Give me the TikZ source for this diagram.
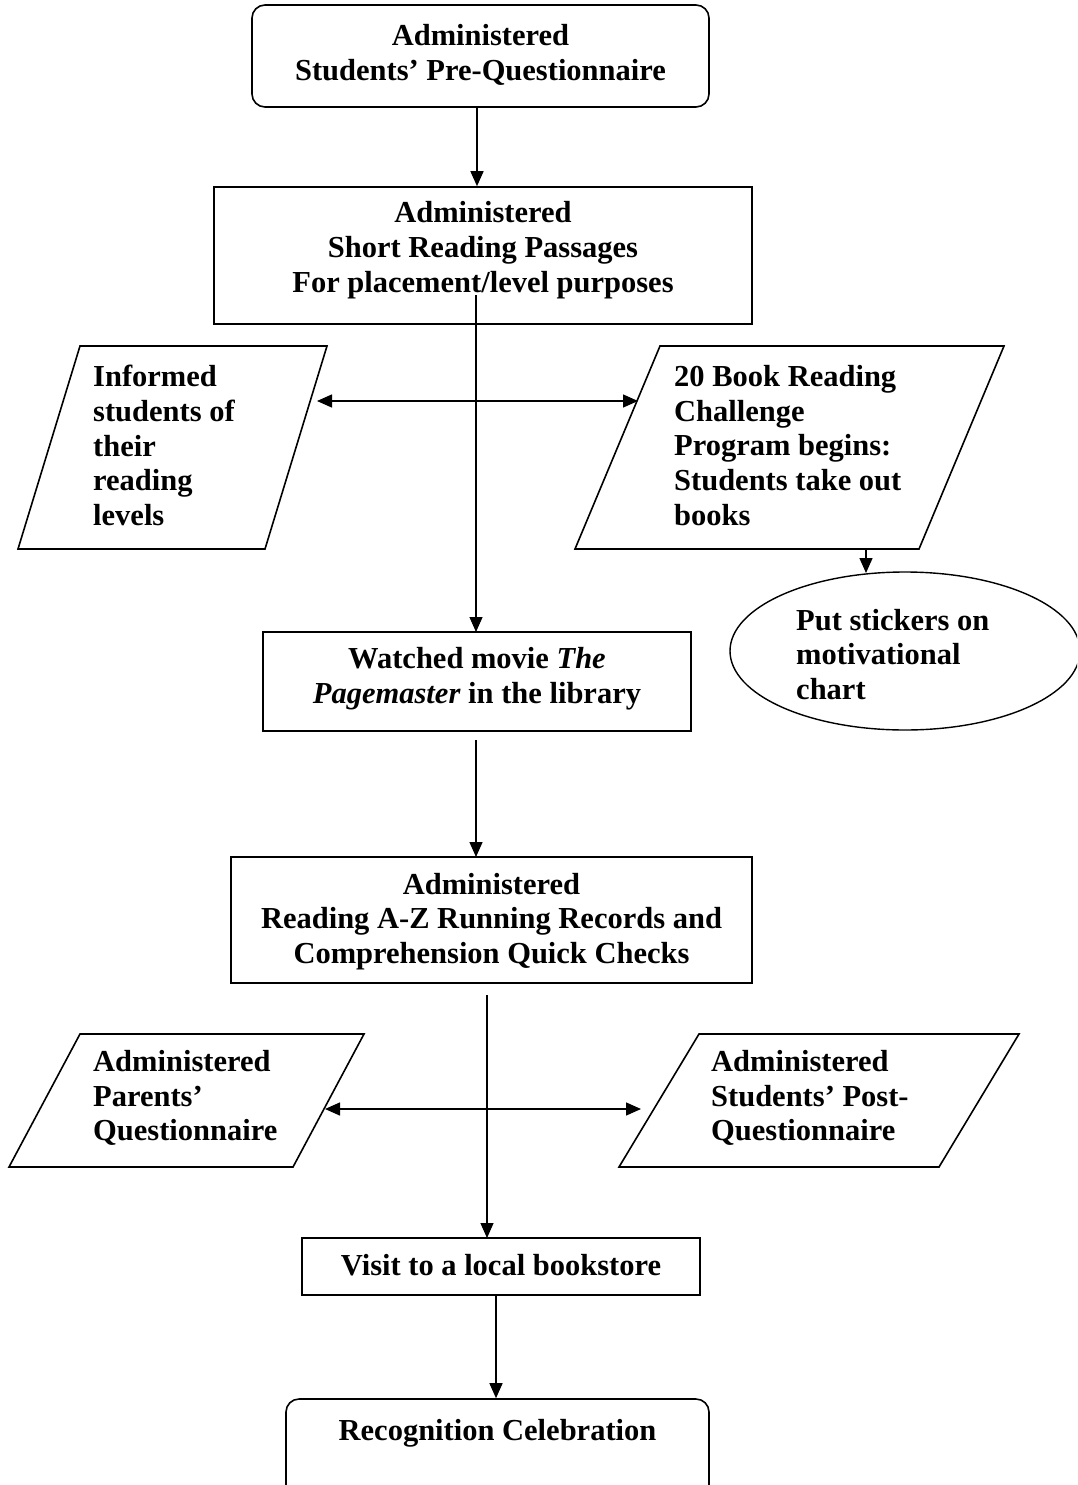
\documentclass[tikz,border=0pt]{standalone}
\usepackage{fontspec}
\setmainfont{Liberation Serif}
\usetikzlibrary{shapes.geometric,arrows.meta}
\tikzset{
  txt/.style={font=\fontsize{30.5}{34.8}\selectfont\bfseries, inner sep=0pt},
  ctxt/.style={txt, align=center},
  ltxt/.style={txt, align=left, anchor=west},
  boxshape/.style={draw, line width=1.6pt, inner sep=0pt},
  rbox/.style={boxshape, rounded corners=13pt},
  shapeline/.style={draw, line width=1.6pt, line join=miter},
  arr/.style={line width=1.4pt, -{Triangle[length=15pt,width=13pt]}},
  darr/.style={line width=1.4pt, {Triangle[length=15pt,width=13pt]}-{Triangle[length=15pt,width=13pt]}},
  thinarr/.style={line width=1.2pt, -{Triangle[length=15pt,width=13pt]}},
}
\begin{document}
\begin{tikzpicture}[x=1pt,y=-1pt]
\clip (0,0) rectangle (1077,1485);
\fill[white] (0,0) rectangle (1077,1485);

% top rounded box
\node[rbox, minimum width=457pt, minimum height=102pt] (top) at (480.5,56) {};
\node[ctxt] (toptxt) at (480.5,54.5) {Administered\\Students’ Pre-Questionnaire};

% box 2
\node[boxshape, minimum width=538pt, minimum height=137pt] (b2) at (483,255.5) {};
\node[ctxt] (b2txt) at (483,250) {Administered\\Short Reading Passages\\For placement/level purposes};

% left parallelogram
\draw[shapeline] (80,346) coordinate (p1tl) -- (327,346) -- (265,549) -- (18,549) -- cycle;
\node[ltxt] (p1txt) at (93,445.5) {Informed\\students of\\their\\reading\\levels};

% right parallelogram
\draw[shapeline] (660,346) coordinate (p2tl) -- (1004,346) -- (919,549) -- (575,549) -- cycle;
\node[ltxt] (p2txt) at (674,445.5) {20 Book Reading\\Challenge\\Program begins:\\Students take out\\books};

% ellipse
\node[draw, line width=1.4pt, ellipse, minimum width=350pt, minimum height=158pt, inner sep=0pt] (ell) at (905,651) {};
\node[ltxt] (elltxt) at (796,654.5) {Put stickers on\\motivational\\chart};

% watched box
\node[boxshape, minimum width=428pt, minimum height=99pt] (watch) at (477,681.5) {};
\node[ctxt] (watchtxt) at (477,679) {Watched movie \textit{The}\\\textit{Pagemaster} in the library};

% admin box 3
\node[boxshape, minimum width=521pt, minimum height=126pt] (b3) at (491.5,920) {};
\node[ctxt] (b3txt) at (491.5,921.5) {Administered\\Reading A-Z Running Records and\\Comprehension Quick Checks};

% lower parallelograms
\draw[shapeline] (80,1034) coordinate (p3tl) -- (364,1034) -- (293,1167) -- (9,1167) -- cycle;
\node[ltxt] (p3txt) at (93,1098) {Administered\\Parents’\\Questionnaire};
\draw[shapeline] (699,1034) coordinate (p4tl) -- (1019,1034) -- (939,1167) -- (619,1167) -- cycle;
\node[ltxt] (p4txt) at (711,1098) {Administered\\Students’ Post-\\Questionnaire};

% visit box
\node[boxshape, minimum width=398pt, minimum height=57pt] (visit) at (501,1266.5) {};
\node[ctxt] (visittxt) at (501,1265) {Visit to a local bookstore};

% final rounded box
\node[rbox, minimum width=423pt, minimum height=120pt] (final) at (497.5,1459) {};
\node[ctxt] (finaltxt) at (497.5,1433) {Recognition Celebration};

% connector coordinates
\coordinate (xa) at (477,0);
\coordinate (v1s) at (476,295);
\coordinate (v1e) at (476,632);
\coordinate (p1r) at (317,401);
\coordinate (p2l) at (638,401);
\coordinate (p2b) at (866,549);
\coordinate (ellt) at (866,573);
\coordinate (wb) at (476,740);
\coordinate (b3t) at (476,857);
\coordinate (v2s) at (487,995);
\coordinate (v2e) at (487,1238);
\coordinate (p3r) at (325,1109);
\coordinate (p4l) at (641,1109);
\coordinate (xb) at (496,0);

% connectors
\draw[arr] (top.south -| xa) -- (b2.north -| xa);
\draw[thinarr] (v1s) -- (v1e);
\draw[darr] (p1r) -- (p2l);
\draw[arr] (p2b) -- (ellt);
\draw[arr] (wb) -- (b3t);
\draw[thinarr] (v2s) -- (v2e);
\draw[darr] (p3r) -- (p4l);
\draw[arr] (visit.south -| xb) -- (final.north -| xb);
\end{tikzpicture}
\end{document}
